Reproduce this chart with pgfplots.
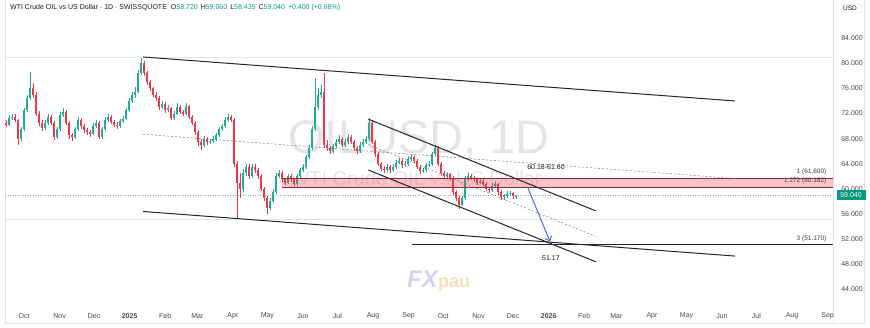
\documentclass[border=0pt]{standalone}
\usepackage{fontspec}
\setmainfont{Liberation Sans}
\usepackage{graphicx}
\usepackage{pgfplots}
\usepackage{pgfplotstable}
\pgfplotsset{compat=1.18}
\usetikzlibrary{arrows.meta}

\definecolor{upc}{RGB}{34,171,148}
\definecolor{dnc}{RGB}{242,54,69}
\definecolor{tvteal}{RGB}{8,153,129}
\definecolor{txt}{RGB}{19,23,34}
\definecolor{lbl}{RGB}{70,72,80}
\definecolor{wm}{RGB}{228,229,233}
\definecolor{fibline}{RGB}{150,40,50}
\definecolor{arrowblue}{RGB}{66,110,235}
\definecolor{pricel}{RGB}{175,155,215}
\definecolor{framec}{RGB}{224,227,235}
\definecolor{dashc}{RGB}{120,120,120}
\definecolor{fxblue}{RGB}{212,212,242}
\definecolor{fxorange}{RGB}{251,222,185}

\pgfplotstableread{
x o h l c u
-18.3 70.8 71.1 70.1 70.5 0
-15.7 70.5 70.9 69.8 70.2 0
-13.1 70.2 71.8 70.0 71.3 1
-10.5 71.3 72.0 70.9 71.5 1
-7.8 71.5 71.9 70.6 71.0 0
-5.2 71.0 71.2 67.0 68.0 0
-2.6 68.0 69.9 67.6 69.5 1
0.0 69.5 72.9 69.2 72.5 1
2.6 72.5 75.0 72.2 74.5 1
5.2 74.5 78.6 74.2 76.0 1
7.8 76.0 76.8 74.5 75.0 0
10.4 75.0 75.4 71.6 72.0 0
13.1 72.0 72.4 70.0 70.5 0
15.7 70.5 70.9 69.2 69.7 0
18.3 69.7 71.0 69.4 70.5 1
20.9 70.5 72.0 70.2 71.5 1
23.5 71.5 71.8 70.1 70.5 0
26.1 70.5 70.8 67.8 68.2 0
28.7 68.2 69.9 67.9 69.5 1
31.3 69.5 72.2 69.2 71.8 1
34.0 71.8 72.8 71.4 72.2 1
36.6 72.2 72.5 70.1 70.5 0
39.2 70.5 70.8 68.0 68.5 0
41.8 68.5 68.9 67.7 68.2 0
44.4 68.2 69.8 67.9 69.5 1
47.0 69.5 71.4 69.2 71.0 1
49.6 71.0 71.3 69.6 70.0 0
52.3 70.0 70.4 68.9 69.3 0
54.9 69.3 69.7 68.6 69.0 0
57.5 69.0 69.4 68.3 68.8 0
60.1 68.8 70.5 68.5 70.0 1
62.7 70.0 71.0 69.7 70.5 1
65.3 70.5 70.8 67.9 68.3 0
67.9 68.3 69.9 68.0 69.5 1
70.5 69.5 71.4 69.2 71.0 1
73.2 71.0 72.0 70.7 71.5 1
75.8 71.5 71.8 70.3 70.7 0
78.4 70.7 71.0 69.8 70.2 0
81.0 70.2 70.6 69.6 70.0 0
83.6 70.0 71.2 69.7 70.8 1
86.2 70.8 71.6 70.5 71.2 1
88.8 71.2 72.9 70.9 72.5 1
91.4 72.5 74.4 72.2 74.0 1
94.1 74.0 75.5 73.7 75.0 1
96.7 75.0 76.2 74.4 75.5 1
99.3 75.5 79.0 75.2 78.5 1
101.9 78.5 80.8 78.2 80.0 1
104.5 80.0 80.4 78.0 78.5 0
107.1 78.5 78.8 76.6 77.0 0
109.7 77.0 77.4 75.6 76.0 0
112.4 76.0 76.3 74.6 75.0 0
115.0 75.0 75.4 74.0 74.5 0
117.6 74.5 74.8 72.6 73.0 0
120.2 73.0 74.0 72.7 73.5 1
122.8 73.5 73.8 72.1 72.5 0
125.4 72.5 73.3 72.2 72.8 1
128.0 72.8 73.0 70.9 71.3 0
130.6 71.3 72.4 71.0 72.0 1
133.3 72.0 73.6 71.7 73.0 1
135.9 73.0 73.3 71.9 72.3 0
138.5 72.3 72.6 71.6 72.0 0
141.1 72.0 73.7 71.7 73.2 1
143.7 73.2 73.4 71.1 71.5 0
146.3 71.5 71.8 70.1 70.5 0
148.9 70.5 70.8 68.6 69.0 0
151.5 69.0 69.3 66.9 67.5 0
154.2 67.5 67.9 66.2 67.0 0
156.8 67.0 68.4 66.7 68.0 1
159.4 68.0 68.3 67.0 67.5 0
162.0 67.5 67.9 67.1 67.6 1
164.6 67.6 68.4 67.3 68.0 1
167.2 68.0 68.9 67.7 68.5 1
169.8 68.5 69.9 68.2 69.5 1
172.4 69.5 70.4 69.2 70.0 1
175.1 70.0 71.5 69.7 71.0 1
177.7 71.0 72.0 70.7 71.5 1
180.3 71.5 71.8 70.6 71.0 0
182.9 71.0 71.3 63.5 64.0 0
185.5 64.0 64.5 55.4 61.0 0
188.1 61.0 62.5 58.5 60.0 0
190.7 60.0 63.2 59.5 62.5 1
193.3 62.5 64.0 62.0 63.5 1
196.0 63.5 63.9 61.6 62.0 0
198.6 62.0 64.0 61.7 63.5 1
201.2 63.5 63.9 62.6 63.0 0
203.8 63.0 63.3 61.6 62.0 0
206.4 62.0 62.3 59.6 60.0 0
209.0 60.0 60.3 58.0 58.5 0
211.6 58.5 58.8 56.0 57.0 0
214.3 57.0 58.5 56.6 58.0 1
216.9 58.0 60.0 57.7 59.5 1
219.5 59.5 62.5 59.2 62.0 1
222.1 62.0 63.0 61.7 62.5 1
224.7 62.5 62.8 61.1 61.5 0
227.3 61.5 61.8 60.6 61.0 0
229.9 61.0 62.4 60.7 62.0 1
232.5 62.0 62.3 61.1 61.5 0
235.2 61.5 61.8 60.4 60.8 0
237.8 60.8 62.4 60.5 62.0 1
240.4 62.0 63.4 61.7 63.0 1
243.0 63.0 64.0 62.7 63.5 1
245.6 63.5 65.4 63.2 65.0 1
248.2 65.0 67.0 64.7 66.5 1
250.8 66.5 70.0 66.2 69.5 1
253.4 69.5 77.7 69.2 73.0 1
256.1 73.0 76.0 72.5 75.0 1
258.7 75.0 76.5 74.5 75.5 1
261.3 75.5 78.5 66.5 67.0 0
263.9 67.0 67.8 66.0 66.5 0
266.5 66.5 66.9 65.6 66.0 0
269.1 66.0 67.2 65.7 66.8 1
271.7 66.8 67.9 66.5 67.5 1
274.4 67.5 68.6 67.2 68.0 1
277.0 68.0 68.3 66.6 67.0 0
279.6 67.0 68.0 66.7 67.5 1
282.2 67.5 68.8 67.2 68.3 1
284.8 68.3 68.6 67.1 67.5 0
287.4 67.5 67.8 66.1 66.5 0
290.0 66.5 66.8 65.6 66.0 0
292.6 66.0 67.4 65.7 67.0 1
295.3 67.0 67.9 66.7 67.5 1
297.9 67.5 68.4 67.2 68.0 1
300.5 68.0 71.3 67.7 70.5 1
303.1 70.5 70.8 67.1 67.5 0
305.7 67.5 67.8 65.1 65.5 0
308.3 65.5 65.8 63.6 64.0 0
310.9 64.0 64.3 62.8 63.2 0
313.5 63.2 63.6 62.6 63.0 0
316.2 63.0 63.9 62.7 63.5 1
318.8 63.5 63.8 62.6 63.0 0
321.4 63.0 63.9 62.7 63.5 1
324.0 63.5 64.6 63.2 64.2 1
326.6 64.2 64.9 63.9 64.5 1
329.2 64.5 64.8 63.4 63.8 0
331.8 63.8 64.4 63.5 64.0 1
334.5 64.0 65.2 63.7 64.8 1
337.1 64.8 65.4 64.5 65.0 1
339.7 65.0 65.3 64.1 64.5 0
342.3 64.5 64.8 63.1 63.5 0
344.9 63.5 63.8 62.4 62.8 0
347.5 62.8 63.4 62.5 63.0 1
350.1 63.0 64.2 62.7 63.8 1
352.7 63.8 64.4 63.5 64.0 1
355.4 64.0 65.9 63.7 65.5 1
358.0 65.5 67.0 65.2 66.5 1
360.6 66.5 66.8 63.6 64.0 0
363.2 64.0 64.3 62.1 62.5 0
365.8 62.5 62.8 61.6 62.0 0
368.4 62.0 62.7 61.7 62.3 1
371.0 62.3 62.6 61.3 61.7 0
373.7 61.7 62.0 59.1 59.5 0
376.3 59.5 59.8 58.1 58.5 0
378.9 58.5 58.8 56.8 57.5 0
381.5 57.5 58.9 57.2 58.5 1
384.1 58.5 62.0 58.2 61.5 1
386.7 61.5 62.6 61.2 62.0 1
389.3 62.0 62.4 61.4 61.8 0
391.9 61.8 62.1 61.1 61.5 0
394.6 61.5 61.8 60.6 61.0 0
397.2 61.0 61.7 60.7 61.3 1
399.8 61.3 61.6 60.4 60.8 0
402.4 60.8 61.1 59.6 60.0 0
405.0 60.0 60.3 59.4 59.8 0
407.6 59.8 60.9 59.5 60.5 1
410.2 60.5 61.2 60.2 60.8 1
412.8 60.8 61.0 59.1 59.5 0
415.5 59.5 59.8 58.3 58.7 0
418.1 58.7 59.2 58.3 58.8 1
420.7 58.8 59.6 58.5 59.2 1
423.3 59.2 59.7 58.9 59.3 1
425.9 59.3 59.5 58.4 58.8 0
428.5 58.72 59.06 58.435 59.04 1
}\candles

\begin{document}
\begin{tikzpicture}
\useasboundingbox (0,0) rectangle (870pt,328pt);
% frame
\draw[framec, line width=0.6pt] (5pt,328pt) -- (5pt,5pt) -- (864pt,5pt) -- (864pt,328pt);
\draw[framec, line width=0.6pt] (833pt,5pt) -- (833pt,328pt);
% watermark
\node[text=wm, font=\fontsize{47}{47}\selectfont, anchor=center] at (419pt,188pt) {OILUSD, 1D};
\node[text=wm, font=\fontsize{20}{20}\selectfont, anchor=center] at (416pt,150pt) {WTI Crude OIL vs US Dollar};
% logo
\node[text=fxblue, font=\fontsize{24}{24}\selectfont\bfseries\itshape, anchor=base east, inner sep=0pt] at (438pt,40pt) {FX};
\node[text=fxorange, font=\fontsize{18}{18}\selectfont\bfseries, anchor=base west, inner sep=0pt] at (438pt,40pt) {pau};

\begin{axis}[
  at={(5pt,23pt)}, anchor=south west,
  scale only axis, width=828pt, height=303pt,
  xmin=-16.55, xmax=704.7, ymin=41.51, ymax=89.76,
  axis line style={draw=none},
  clip mode=individual,
  xtick={0,31,61,92,123,151,182,212,243,273,304,335,365,396,426,457,488,516,547,577,608,638,669,700},
  xticklabels={Oct,Nov,Dec,\textbf{2025},Feb,Mar,Apr,May,Jun,Jul,Aug,Sep,Oct,Nov,Dec,\textbf{2026},Feb,Mar,Apr,May,Jun,Jul,Aug,Sep},
  ytick={44,48,52,56,60,64,68,72,76,80,84},
  yticklabels={44.000,48.000,52.000,56.000,60.000,64.000,68.000,72.000,76.000,80.000,84.000},
  yticklabel pos=right,
  major tick length=0pt,
  tick label style={font=\fontsize{7}{8}\selectfont, text=lbl},
  xticklabel style={anchor=center, yshift=-11pt},
  yticklabel style={anchor=center, xshift=19pt},
]
% faint level lines
\addplot[framec, line width=0.6pt] coordinates {(-16.55,81.0) (704.7,81.0)};
\addplot[framec, line width=0.6pt] coordinates {(-16.55,55.2) (704.7,55.2)};
% current price line
\addplot[pricel, line width=0.5pt, dotted] coordinates {(-16.55,59.04) (704.7,59.04)};
% candles: wicks
\addplot[upc, line width=0.5pt, restrict expr to domain={\thisrow{u}}{0.5:1.5},
  quiver={u=0, v=\thisrow{h}-\thisrow{l}}]
  table[x=x, y=l] {\candles};
\addplot[dnc, line width=0.5pt, restrict expr to domain={\thisrow{u}}{-0.5:0.5},
  quiver={u=0, v=\thisrow{h}-\thisrow{l}}]
  table[x=x, y=l] {\candles};
% candles: bodies
\addplot[upc, line width=2pt, restrict expr to domain={\thisrow{u}}{0.5:1.5},
  quiver={u=0, v=\thisrow{c}-\thisrow{o}}]
  table[x=x, y=o] {\candles};
\addplot[dnc, line width=2pt, restrict expr to domain={\thisrow{u}}{-0.5:0.5},
  quiver={u=0, v=\thisrow{o}-\thisrow{c}}]
  table[x=x, y=c] {\candles};
% fib zone
\addplot[fill=dnc, fill opacity=0.3, draw=none] coordinates {(224.7,60.182) (704.7,60.182) (704.7,61.6) (224.7,61.6)};
\addplot[fibline, line width=0.7pt] coordinates {(224.7,61.6) (704.7,61.6)};
\addplot[fibline, line width=0.7pt] coordinates {(224.7,60.182) (704.7,60.182)};
% big channel
\addplot[black!85, line width=1pt] coordinates {(103.7,81.0) (619.3,74.0)};
\addplot[black!85, line width=1pt] coordinates {(103.7,56.4) (619.3,49.3)};
\addplot[dashc, line width=0.5pt, dash pattern=on 2pt off 2pt] coordinates {(103.7,68.7) (619.3,61.65)};
% small channel
\addplot[black!85, line width=1pt] coordinates {(300,71.1) (498,56.5)};
\addplot[black!85, line width=1pt] coordinates {(300,63.0) (498,48.4)};
\addplot[dashc, line width=0.5pt, dash pattern=on 2pt off 2pt] coordinates {(300,67.05) (498,52.45)};
% target line
\addplot[black!85, line width=1pt] coordinates {(338,51.17) (704.7,51.17)};
% arrow
\addplot[arrowblue, line width=1pt, -{Straight Barb[length=4pt,width=7pt]}] coordinates {(439.0,60.14) (458.2,51.6)};
% labels
\node[font=\fontsize{7}{8}\selectfont, text=txt] at (axis cs:454.7,63.49) {60.18-61.60};
\node[font=\fontsize{7}{8}\selectfont, text=txt] at (axis cs:459,49.0) {51.17};
\node[font=\fontsize{6.5}{7}\selectfont, text=black!75, anchor=east] at (axis cs:702,62.69) {1 (61.600)};
\node[font=\fontsize{6.5}{7}\selectfont, text=black!75, anchor=east] at (axis cs:702,61.26) {1.272 (60.182)};
\node[font=\fontsize{6.5}{7}\selectfont, text=black!75, anchor=east] at (axis cs:702,52.07) {3 (51.170)};
\coordinate (cp) at (axis cs:704.7,59.04);
\end{axis}
% current price tag
\node[fill=tvteal, text=white, font=\fontsize{7}{8}\selectfont, inner sep=1.5pt, minimum height=10pt, minimum width=29pt] at ([xshift=18pt]cp) {59.040};
% USD box
\node[draw=framec, rounded corners=1pt, text=txt, font=\fontsize{6.5}{7}\selectfont, inner sep=2pt, minimum width=24pt] at (850pt,319.5pt) {USD};
% title
\node[anchor=west, font=\fontsize{7}{8}\selectfont, text=txt, inner sep=0pt] at (10pt,320.5pt)
  {WTI Crude OIL vs US Dollar · 1D · SWISSQUOTE\hspace{4pt}O\textcolor{tvteal}{58.720}\hspace{3pt}H\textcolor{tvteal}{59.060}\hspace{3pt}L\textcolor{tvteal}{58.435}\hspace{3pt}C\textcolor{tvteal}{59.040}\hspace{3pt}\textcolor{tvteal}{+0.400 (+0.68\%)}};
\end{tikzpicture}
\end{document}
